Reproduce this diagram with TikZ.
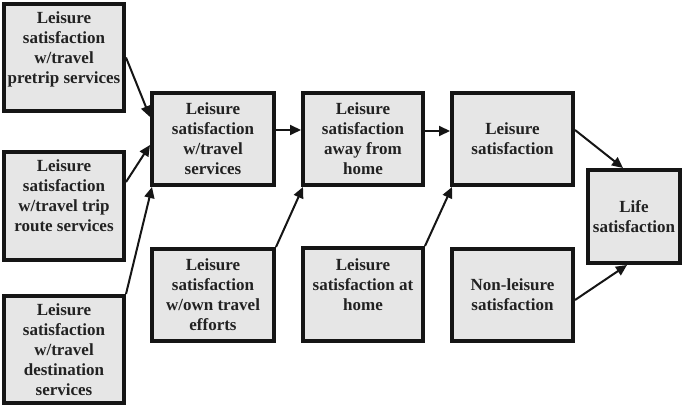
\documentclass[tikz,border=0pt]{standalone}
\usepackage{fontspec}
\setmainfont{Liberation Serif}
\usetikzlibrary{arrows.meta}
\definecolor{boxfill}{HTML}{E6E6E6}
\definecolor{boxline}{HTML}{151515}
\definecolor{txt}{HTML}{222222}
\tikzset{
  box/.style={draw=boxline, fill=boxfill, line width=4pt, rectangle, inner sep=1pt,
    align=center, text=txt, font=\fontsize{17}{20}\selectfont\bfseries},
  colA/.style={minimum width=120pt},
  colB/.style={minimum width=122pt},
  colC/.style={minimum width=120pt},
  colD/.style={minimum width=121pt},
  colE/.style={minimum width=92pt},
  link/.style={draw=boxline, line width=2pt, -{Triangle[length=11pt,width=10pt]}}
}
\begin{document}
\begin{tikzpicture}[x=1pt,y=-1pt]
\useasboundingbox (0,0) rectangle (685,406);
% column 1
\node[box,colA,minimum height=107pt] (pretrip) at (64,57.5) {Leisure\\satisfaction\\w/travel\\pretrip services\\\mbox{}};
\node[box,colA,minimum height=108pt] (route) at (64,206) {Leisure\\satisfaction\\w/travel trip\\route services\\\mbox{}};
\node[box,colA,minimum height=107pt] (dest) at (64,349.5) {Leisure\\satisfaction\\w/travel\\destination\\services};
% column 2
\node[box,colB,minimum height=92pt] (services) at (213,139) {Leisure\\satisfaction\\w/travel\\services};
\node[box,colB,minimum height=92pt] (efforts) at (213,295) {Leisure\\satisfaction\\w/own travel\\efforts};
% column 3
\node[box,colC,minimum height=92pt] (away) at (363,139) {Leisure\\satisfaction\\away from\\home};
\node[box,colC,minimum height=93pt] (home) at (363,294.5) {Leisure\\satisfaction at\\home\\\mbox{}};
% column 4
\node[box,colD,minimum height=92pt] (leisure) at (512.5,139) {Leisure\\satisfaction};
\node[box,colD,minimum height=92pt] (nonleisure) at (512.5,295) {Non-leisure\\satisfaction};
% column 5
\node[box,colE,minimum height=93pt] (life) at (634,216.5) {Life\\satisfaction};
% connectors
\draw[link] (pretrip.east) -- ([yshift=22pt]services.west);
\draw[link] ([yshift=24pt]route.east) -- ([yshift=-6pt]services.west);
\draw[link] (dest.north east) -- ([xshift=2pt]services.south west);
\draw[link] (efforts.north east) -- ([xshift=2pt]away.south west);
\draw[link] (home.north east) -- ([xshift=2pt]leisure.south west);
\draw[link] ([yshift=9pt]services.east) -- ([yshift=9pt]away.west);
\draw[link] ([yshift=8pt]away.east) -- ([yshift=8pt]leisure.west);
\draw[link] ([yshift=9pt]leisure.east) -- ([xshift=-11pt]life.north);
\draw[link] ([yshift=-5pt]nonleisure.east) -- ([xshift=-7pt]life.south);
\end{tikzpicture}
\end{document}
